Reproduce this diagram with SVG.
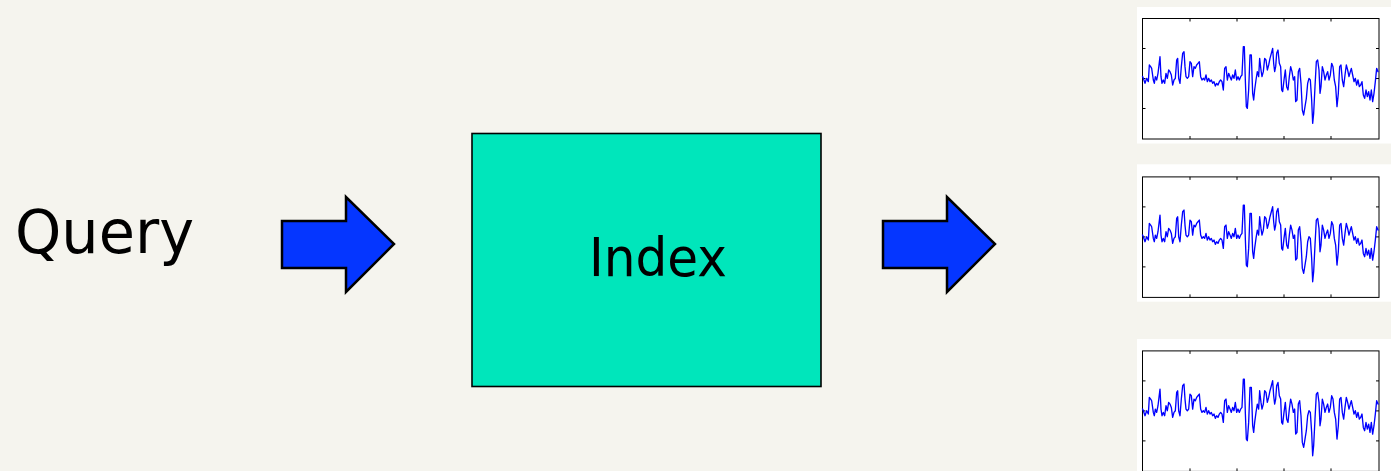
<svg xmlns="http://www.w3.org/2000/svg" xmlns:xlink="http://www.w3.org/1999/xlink" width="1391" height="471" viewBox="0 0 1391 471">
<style>
.lbl{font-family:"DejaVu Sans","Noto Sans",sans-serif;fill:#000}
.arrow{fill:#0536FF;stroke:#000;stroke-width:2.5;stroke-linejoin:miter}
.panel{fill:#FFFFFF}
.axes{fill:none;stroke:#000;stroke-width:1}
.tick{stroke:#000;stroke-width:1}
.sig{fill:none;stroke:#0000FF;stroke-width:4;stroke-linejoin:round}
</style>
<defs>
<polyline id="sig" class="sig" points="37,228 40,235 45,250 50,235 55,245 58,195 62,200 65,205 70,240 73,250 76,230 80,240 84,220 87,195 90,170 93,230 96,250 100,240 104,250 108,220 112,235 116,210 120,215 124,225 128,255 132,240 136,235 140,180 143,175 146,235 150,250 154,200 158,160 162,155 165,200 168,230 172,235 176,230 180,185 184,190 188,230 192,200 196,205 200,195 204,190 208,185 212,230 216,240 220,235 224,240 228,225 232,245 236,235 240,245 244,240 248,250 252,245 256,258 260,250 264,255 268,245 272,240 276,245 280,270 284,205 288,200 292,240 296,220 300,230 304,240 308,225 312,235 316,210 320,240 324,230 328,240 332,230 336,225 340,140 343,140 346,240 349,320 352,325 356,270 360,165 364,165 368,280 371,300 374,270 378,240 382,215 386,230 389,175 393,210 396,230 400,215 404,175 408,180 412,210 416,195 420,175 424,160 428,145 431,190 434,215 437,200 440,160 444,150 448,190 452,200 455,270 458,275 462,240 466,210 470,260 474,270 478,230 482,200 486,215 490,240 494,230 497,305 501,300 505,215 509,205 513,250 517,330 521,345 525,320 529,295 533,250 537,235 541,240 545,300 548,370 551,340 555,260 559,185 563,180 567,210 570,280 573,260 577,200 581,215 585,240 589,225 593,215 597,240 601,225 605,190 609,200 613,240 617,260 621,320 625,280 629,200 633,195 637,240 641,260 645,225 649,195 653,210 657,230 661,215 664,205 668,225 672,245 676,235 680,255 684,240 688,260 692,255 696,245 700,285 704,295 708,270 712,290 716,275 720,300 724,270 728,305 732,280 736,245 740,205 744,215 746,215"/>
<g id="axesbox">
<rect class="axes" x="1142.5" y="18.5" width="236.5" height="120.5"/>
<path class="tick" d="M1190 18.5v3M1237 18.5v3M1284 18.5v3M1331 18.5v3M1190 139v-3M1237 139v-3M1284 139v-3M1331 139v-3M1142.5 48.5h3M1142.5 78.5h3M1142.5 108.5h3M1379 48.5h-3M1379 78.5h-3M1379 108.5h-3"/>
<use xlink:href="#sig" transform="translate(1142.33,18.33) scale(0.33333) translate(-37,-55)"/>
</g>
</defs>
<rect x="0" y="0" width="1391" height="471" fill="#F5F4EE"/>
<g id="query">
<text class="lbl" x="15" y="253" font-size="60" textLength="179" lengthAdjust="spacingAndGlyphs">Query</text>
</g>
<g id="index">
<rect x="472" y="133.5" width="349" height="253" fill="#00E6BB" stroke="#000" stroke-width="1.6"/>
<text class="lbl" x="589" y="276" font-size="53" textLength="138" lengthAdjust="spacingAndGlyphs">Index</text>
</g>
<g id="results">
<g id="plot1">
<rect class="panel" x="1137" y="7" width="254" height="136.5"/>
<use xlink:href="#axesbox"/>
</g>
<g id="plot2">
<rect class="panel" x="1137" y="164.3" width="254" height="137.4"/>
<use xlink:href="#axesbox" transform="translate(0,158.4)"/>
</g>
<g id="plot3">
<rect class="panel" x="1137" y="339" width="254" height="132"/>
<use xlink:href="#axesbox" transform="translate(0,332.4)"/>
</g>
</g>
<g id="connectors">
<polygon class="arrow" points="282,221 346,221 346,197 394,244 346,292 346,268 282,268"/>
<polygon class="arrow" points="883,221 947,221 947,197 995,244 947,292 947,268 883,268"/>
</g>
</svg>
